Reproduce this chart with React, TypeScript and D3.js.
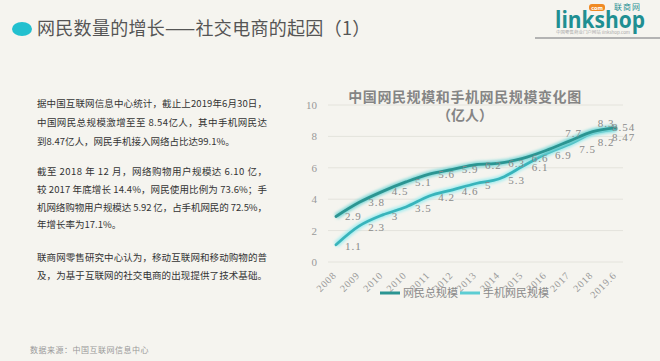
import React from "react";
import * as d3 from "d3";

const categories = ["2008", "2009", "2010", "2010", "2011", "2012", "2013", "2014", "2015", "2016", "2017", "2018", "2019.6"];
const totalValues = [2.9, 3.8, 4.5, 5.1, 5.6, 5.9, 6.2, 6.3, 6.6, 7.1, 7.7, 8.3, 8.54];
const mobileValues = [1.1, 2.3, 3, 3.5, 4.2, 4.6, 5, 5.3, 6.1, 6.9, 7.5, 8.2, 8.47];
const totalLabelShown = [true, true, true, true, true, true, true, true, true, false, true, true, true];
const yTicks = [0, 2, 4, 6, 8, 10];
const seriesNames = ["网民总规模", "手机网民规模"];

const paragraphs = [
  { text: "据中国互联网信息中心统计，截止上2019年6月30日，", full: true },
  { text: "中国网民总规模激增至至 8.54亿人，其中手机网民达", full: true },
  { text: "到8.47亿人，网民手机接入网络占比达99.1%。", full: false },
  { text: "", full: false },
  { text: "截至 2018 年 12 月，网络购物用户规模达 6.10 亿，", full: true },
  { text: "较 2017 年底增长 14.4%，网民使用比例为 73.6%；手", full: true },
  { text: "机网络购物用户规模达 5.92 亿，占手机网民的 72.5%，", full: true },
  { text: "年增长率为17.1%。", full: false },
  { text: "", full: false },
  { text: "联商网零售研究中心认为，移动互联网和移动购物的普", full: true },
  { text: "及，为基于互联网的社交电商的出现提供了技术基础。", full: true },
];
const lineYs = [107, 126, 145, 160, 175, 193, 211, 228, 245, 261, 279];

const W = 660;
const H = 361;

export default function App() {
  const x = d3.scalePoint<number>().domain(d3.range(categories.length)).range([336, 616]);
  const y = d3.scaleLinear().domain([0, 10]).range([262, 105]);
  const line = d3
    .line<number>()
    .x((_, i) => x(i) as number)
    .y((d) => y(d))
    .curve(d3.curveCatmullRom.alpha(0.5));

  const cjk = "'Noto Sans CJK SC', sans-serif";
  const serif = "'Liberation Serif', 'DejaVu Serif', serif";

  const totalColor = "#2b9592";
  const totalGlow = "#7fd8d8";
  const mobileColor = "#38b4bb";
  const mobileGlow = "#a2ecef";

  const totalOffset = (i: number) => {
    if (i === 10) return { dx: -4, dy: -8 };
    if (i === 11) return { dx: 5, dy: -9 };
    if (i === 12) return { dx: -4, dy: -1 };
    return { dx: 9, dy: 0 };
  };
  const mobileOffset = (i: number) => {
    if (i === 10) return { dx: 10, dy: 5 };
    if (i === 11) return { dx: 5, dy: 9 };
    if (i === 12) return { dx: -4, dy: 8 };
    return { dx: 9, dy: 1 };
  };

  return (
    <svg width={W} height={H} style={{ position: "absolute", left: 0, top: 0, display: "block" }}>
      <defs>
        <filter id="glow" x="-10%" y="-30%" width="120%" height="160%">
          <feGaussianBlur stdDeviation="1.5" />
        </filter>
      </defs>
      <rect x={0} y={0} width={W} height={H} fill="#f5f4ef" />

      {/* header */}
      <ellipse cx={22} cy={29} rx={10} ry={7} fill="#22c0cf" />
      <text x={37} y={35} fontFamily={cjk} fontSize={18} fill="#555" letterSpacing={0.3}>
        网民数量的增长——社交电商的起因（1）
      </text>

      {/* logo */}
      <line x1={535} y1={38} x2={660} y2={38} stroke="#b3b3b3" strokeWidth={2} />
      <text x={555} y={28} fontFamily="'Open Sans', sans-serif" fontWeight={700} fontSize={24} fill="#1f8f92" textLength={90} lengthAdjust="spacingAndGlyphs">
        linkshop
      </text>
      <rect x={589} y={4} width={16} height={7} rx={3} fill="#f08a24" />
      <text x={597} y={9.5} textAnchor="middle" fontFamily="'Open Sans', sans-serif" fontSize={5.5} fill="#fff" fontWeight={700}>
        com
      </text>
      <text x={614} y={10} fontFamily={cjk} fontSize={8} fill="#1f8f92" letterSpacing={1}>
        联商网
      </text>
      <text x={556} y={34} fontFamily={cjk} fontSize={4} fill="#aaa" textLength={74} lengthAdjust="spacingAndGlyphs">
        中国零售商业门户网站 linkshop.com
      </text>

      {/* left paragraph */}
      {paragraphs.map((p, i) =>
        p.text ? (
          <text
            key={i}
            x={37}
            y={lineYs[i]}
            fontFamily={cjk}
            fontSize={9.5}
            fill="#333"
            {...(p.full ? { textLength: 230, lengthAdjust: "spacing" } : {})}
          >
            {p.text}
          </text>
        ) : null
      )}

      {/* footer */}
      <text x={30} y={353} fontFamily={cjk} fontSize={8} fill="#999" letterSpacing={0.5}>
        数据来源：中国互联网信息中心
      </text>

      {/* chart title */}
      <text x={465} y={102} textAnchor="middle" fontFamily={cjk} fontSize={14} fontWeight={700} fill="#858585" letterSpacing={0.6}>
        中国网民规模和手机网民规模变化图
      </text>
      <text x={465} y={120} textAnchor="middle" fontFamily={cjk} fontSize={14} fontWeight={700} fill="#858585">
        （亿人）
      </text>

      {/* grid + y axis */}
      {yTicks.map((t) => (
        <g key={t}>
          <line x1={328} x2={623} y1={y(t)} y2={y(t)} stroke="#e4e3dc" strokeWidth={1} />
          <text x={317} y={y(t) + 4} textAnchor="end" fontFamily={serif} fontSize={11} fill="#999">
            {t}
          </text>
        </g>
      ))}

      {/* x axis labels */}
      {categories.map((c, i) => (
        <text
          key={i}
          transform={`translate(${(x(i) as number) + 1},${276}) rotate(-45)`}
          textAnchor="end"
          fontFamily={serif}
          fontSize={10}
          fill="#999"
          letterSpacing={0.8}
        >
          {c}
        </text>
      ))}

      {/* lines */}
      <path d={line(mobileValues) || ""} fill="none" stroke={mobileGlow} strokeWidth={6} filter="url(#glow)" />
      <path d={line(mobileValues) || ""} fill="none" stroke={mobileColor} strokeWidth={2.8} strokeLinecap="round" />
      <path d={line(totalValues) || ""} fill="none" stroke={totalGlow} strokeWidth={6} filter="url(#glow)" />
      <path d={line(totalValues) || ""} fill="none" stroke={totalColor} strokeWidth={2.8} strokeLinecap="round" />

      {/* data labels */}
      {totalValues.map((v, i) => {
        if (!totalLabelShown[i]) return null;
        const o = totalOffset(i);
        return (
          <text key={"t" + i} x={(x(i) as number) + o.dx} y={y(v) + 4 + o.dy} fontFamily={serif} fontSize={11} fill="#8a8a8a" letterSpacing={1}>
            {v}
          </text>
        );
      })}
      {mobileValues.map((v, i) => {
        const o = mobileOffset(i);
        return (
          <text key={"m" + i} x={(x(i) as number) + o.dx} y={y(v) + 4 + o.dy} fontFamily={serif} fontSize={11} fill="#8a8a8a" letterSpacing={1}>
            {v}
          </text>
        );
      })}

      {/* legend */}
      <line x1={380} x2={400} y1={293} y2={293} stroke={totalColor} strokeWidth={3} />
      <text x={403} y={297} fontFamily={cjk} fontSize={11} fill="#8a8a8a">
        {seriesNames[0]}
      </text>
      <line x1={460} x2={480} y1={293} y2={293} stroke="#5ccdd3" strokeWidth={3} />
      <text x={483} y={297} fontFamily={cjk} fontSize={11} fill="#8a8a8a">
        {seriesNames[1]}
      </text>
    </svg>
  );
}
